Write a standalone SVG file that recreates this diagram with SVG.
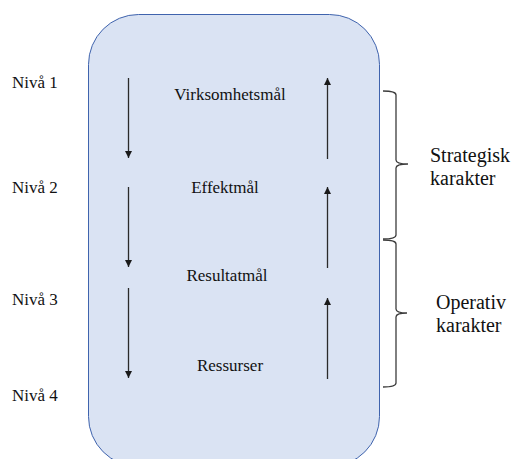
<svg xmlns="http://www.w3.org/2000/svg" width="513" height="459" viewBox="0 0 513 459">
  <defs>
    <marker id="head" viewBox="0 0 8 8" refX="8" refY="4" markerWidth="7" markerHeight="7" markerUnits="userSpaceOnUse" orient="auto">
      <path d="M0,0 L8,4 L0,8 Z" fill="#1a1a1a"/>
    </marker>
  </defs>
  <style>
    text { font-family: "Liberation Serif", "Times New Roman", Times, "DejaVu Serif", serif; fill: #111; }
    .lvl { font-size: 17px; }
    .goal { font-size: 17px; text-anchor: middle; }
    .side { font-size: 20px; }
    .arrow { stroke: #2a2a2a; stroke-width: 1.3; fill: none; marker-end: url(#head); }
    .brace { stroke: #3c3c3c; stroke-width: 1.3; fill: none; }
  </style>

  <rect width="513" height="459" fill="#ffffff"/>

  <!-- main rounded panel -->
  <g id="panel">
    <rect x="88.5" y="14.5" width="291" height="452" rx="50" ry="50" fill="#dae3f3" stroke="#3f63ad" stroke-width="1"/>
  </g>

  <!-- level labels -->
  <g id="level-1"><text class="lvl" x="12" y="88">Nivå 1</text></g>
  <g id="level-2"><text class="lvl" x="12" y="193">Nivå 2</text></g>
  <g id="level-3"><text class="lvl" x="12" y="305">Nivå 3</text></g>
  <g id="level-4"><text class="lvl" x="12" y="401">Nivå 4</text></g>

  <!-- goal hierarchy -->
  <g id="virksomhetsmal"><text class="goal" x="230" y="100">Virksomhetsmål</text></g>
  <g id="effektmal"><text class="goal" x="225" y="193">Effektmål</text></g>
  <g id="resultatmal"><text class="goal" x="227" y="281">Resultatmål</text></g>
  <g id="ressurser"><text class="goal" x="230" y="371">Ressurser</text></g>

  <!-- connectors: downward and upward arrows -->
  <g id="connectors">
    <line class="arrow" x1="128.5" y1="78" x2="128.5" y2="158"/>
    <line class="arrow" x1="128.5" y1="187" x2="128.5" y2="267"/>
    <line class="arrow" x1="128.5" y1="288" x2="128.5" y2="378"/>
    <line class="arrow" x1="327.5" y1="159" x2="327.5" y2="78"/>
    <line class="arrow" x1="327.5" y1="268" x2="327.5" y2="187"/>
    <line class="arrow" x1="327.5" y1="379" x2="327.5" y2="298"/>
  </g>

  <!-- strategic brace -->
  <g id="strategisk">
    <path class="brace" d="M383,91 Q396,91 396,95 L396,160 Q396,164 408,164 Q396,164 396,168 L396,235 Q396,239 383,239"/>
    <text class="side" x="430" y="162">Strategisk</text>
    <text class="side" x="430" y="185">karakter</text>
  </g>

  <!-- operational brace -->
  <g id="operativ">
    <path class="brace" d="M383,240 Q396,240 396,244 L396,309 Q396,313 407,313 Q396,313 396,317 L396,383 Q396,387 383,387"/>
    <text class="side" x="436" y="309">Operativ</text>
    <text class="side" x="436" y="332">karakter</text>
  </g>
</svg>
